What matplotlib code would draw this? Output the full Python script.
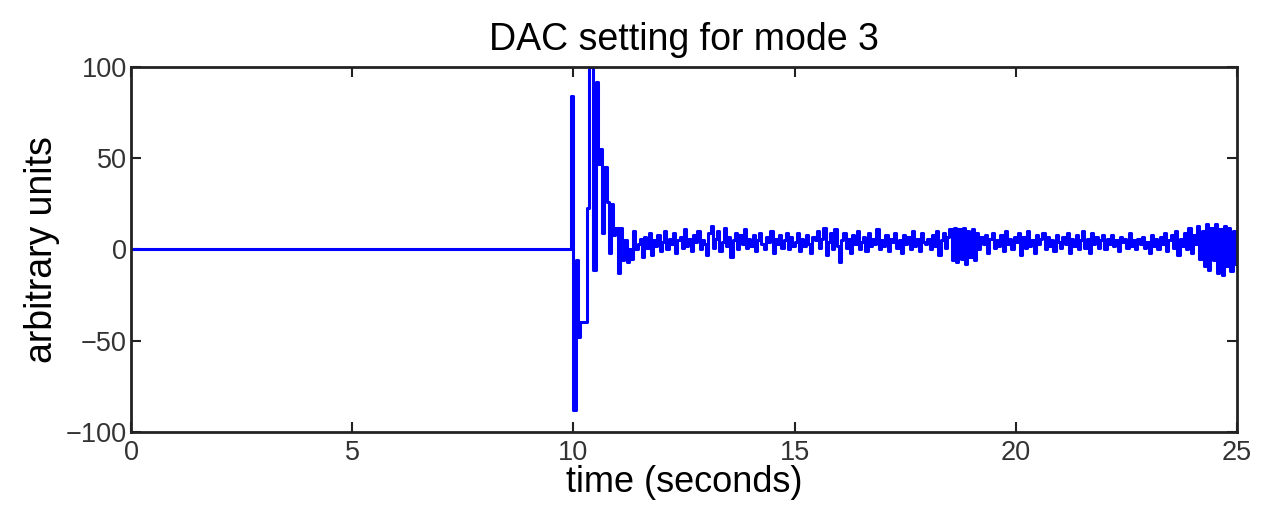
import numpy as np
import matplotlib.pyplot as plt

plt.rcParams['font.family'] = ['Liberation Sans', 'DejaVu Sans']

# DAC output
# quiet part before the mode switch
t_quiet = [0.0, 9.95]
v_quiet = [0.0, 0.0]

# transient right after the switch, 0.05 s per sample starting at 9.95 s
dt_fast = 0.05
t_fast_start = 9.95
v_fast = [84, -88, -6, -48, -40, -40, -40, 23, 104, 100,
          -11, 92, 47, 55, 9, 45, 26, -2, 25, 8,
          12, -13, 12, -6, 5, -7, 0, -5, 10, 0,
          3]

# settled part, same sample rate, starting at 11.5 s
t_slow_start = 11.5
v_slow = [6, -4, 7, 1, 9, -3, 5, 2, 8, -1,
          4, 10, 0, 6, 3, 9, -2, 5, 7, 1, 11, 2, 6, -1, 8, 4, 10, 0, 5, 3,
          -3, 9, 13, 1, 6, 10, -1, 4, 12, 2, 7, -4, 5, 9, 0, 8, 3, 11, 1, 6,
          2, 8, -1, 5, 9, 3, 0, 7, 4, 10, -2, 6, 3, 8, 1, 5, 9, 0, 7, 2,
          4, 9, -1, 6, 2, 8, 3, -2, 7, 5, 10, 1, 6, 12, -3, 4, 9, 0, 11, 2,
          -7, 5, 9, 1, 6, -2, 8, 3, 10, 0, 4, 7, -1, 9, 2, 6, 3, 11, 0, 5,
          2, 8, -1, 6, 4, 9, 1, 5, -2, 8, 3, 7, 0, 10, 2, 6, -1, 9, 4, 3,
          6, 0, 8, 2, 10, -3, 5, 9, 1, 7, 11, -6, 12, -7, 11, -5, 12, -8, 10, -4,
          11, -6, 9, 0, 7, 3, 8, -2, 6, 9, 1, 5, 2, 8, -1, 10, 3, 6, 0, 7,
          4, 9, -3, 7, 1, 10, 2, 5, -2, 8, 3, 6, 9, 0, 7, 2, 5, -1, 8, 4,
          1, 7, 3, 9, -2, 6, 2, 8, 0, 5, 10, 1, 6, -2, 9, 3, 7, 1, 5, 8,
          0, 6, 3, 8, 2, 5, -1, 7, 4, 6, 1, 9, 2, 5, 0, 6, 3, 7, 1, 4,
          -2, 8, 2, 6, 0, 7, 3, 9, -1, 5, 8, 1, 10, -3, 6, 2, 9, 0, 12, -2,
          8, 3, 13, -5, 10, -9, 14, -11, 12, -6, 14, -13, 11, -14, 13, -9, 12, -12, 10, -8,
          5]

t_fast = t_fast_start + dt_fast * np.arange(len(v_fast))
t_slow = t_slow_start + dt_fast * np.arange(len(v_slow))

t = np.concatenate([t_quiet, t_fast, t_slow])
v = np.concatenate([v_quiet, v_fast, v_slow])

fig = plt.figure(figsize=(12.61, 5.16), dpi=100)
ax = fig.add_axes([0.1039, 0.1628, 0.8771, 0.7074])

ax.step(t, v, where='post', color='#0000ff', linewidth=2.2)

ax.set_xlim(0, 25)
ax.set_ylim(-100, 100)
ax.set_xticks([0, 5, 10, 15, 20, 25])
ax.set_yticks([-100, -50, 0, 50, 100])

ax.set_title('DAC setting for mode 3', fontsize=27, pad=12)
ax.set_xlabel('time (seconds)', fontsize=26, labelpad=-1)
ax.set_ylabel('arbitrary units', fontsize=27, labelpad=4)

ax.tick_params(direction='in', length=7, width=1.5, top=True, right=True,
               labelsize=19.5, colors='#222222', labelcolor='#333333')
ax.tick_params(axis='x', pad=6)
ax.tick_params(axis='y', pad=3)
for sp in ax.spines.values():
    sp.set_linewidth(2)
    sp.set_color('#222222')

fig.savefig('out.png', dpi=100)
